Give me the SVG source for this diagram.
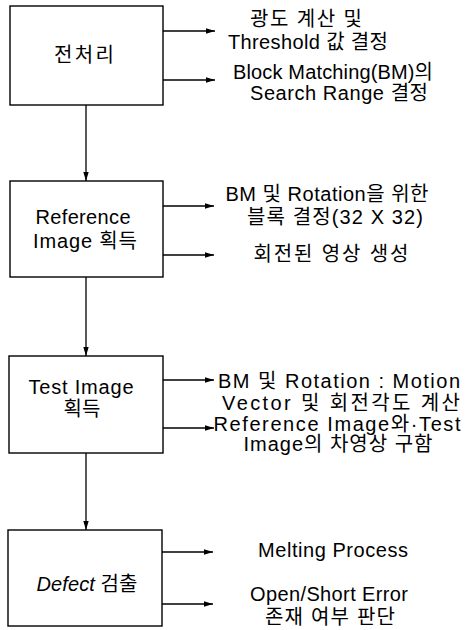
<svg xmlns="http://www.w3.org/2000/svg" width="465" height="630" viewBox="0 0 465 630">
  <style>
    .box { fill: #ffffff; stroke: #000000; stroke-width: 1.4; }
    .wire { fill: none; stroke: #000000; stroke-width: 1.3; marker-end: url(#head); }
    text { font-family: "Liberation Sans", "Noto Sans CJK KR", sans-serif; font-size: 20px; fill: #000000; text-anchor: middle; }
    .it { font-style: italic; }
  </style>
  <defs>
    <marker id="head" viewBox="0 0 10 6" refX="10" refY="3" markerWidth="9" markerHeight="6" markerUnits="userSpaceOnUse" orient="auto">
      <path d="M0,0 L10,3 L0,6 Z" fill="#000000"/>
    </marker>
  </defs>
  <rect width="465" height="630" fill="#ffffff"/>

  <!-- flow connectors -->
  <g id="connectors">
    <line class="wire" x1="86" y1="105" x2="86" y2="181"/>
    <line class="wire" x1="86" y1="277" x2="86" y2="356"/>
    <line class="wire" x1="86" y1="453" x2="86" y2="530"/>
    <line class="wire" x1="163" y1="31" x2="215" y2="31"/>
    <line class="wire" x1="163" y1="80" x2="215" y2="80"/>
    <line class="wire" x1="163" y1="206" x2="214" y2="206"/>
    <line class="wire" x1="163" y1="255" x2="214" y2="255"/>
    <line class="wire" x1="163" y1="380" x2="214" y2="380"/>
    <line class="wire" x1="163" y1="428" x2="214" y2="428"/>
    <line class="wire" x1="162" y1="552" x2="213" y2="552"/>
    <line class="wire" x1="162" y1="604" x2="213" y2="604"/>
  </g>

  <g id="preprocess">
    <rect class="box" x="10" y="6" width="153" height="99"/>
    <text x="84" y="62" textLength="60">전처리</text>
  </g>
  <g id="preprocess-notes">
    <text x="306" y="26" textLength="112">광도 계산 및</text>
    <text x="308" y="48.5" textLength="160">Threshold 값 결정</text>
    <text x="333" y="79" textLength="200">Block Matching(BM)의</text>
    <text x="339" y="99.5" textLength="178">Search Range 결정</text>
  </g>

  <g id="reference">
    <rect class="box" x="10" y="181" width="153" height="96"/>
    <text x="83" y="224" textLength="95">Reference</text>
    <text x="85" y="247.5" textLength="104">Image 획득</text>
  </g>
  <g id="reference-notes">
    <text x="327" y="200.5" textLength="203">BM 및 Rotation을 위한</text>
    <text x="335" y="224" textLength="176">블록 결정(32 X 32)</text>
    <text x="331" y="261" textLength="155">회전된 영상 생성</text>
  </g>

  <g id="test">
    <rect class="box" x="9" y="356" width="154" height="97"/>
    <text x="81" y="394" textLength="105">Test Image</text>
    <text x="82" y="416" textLength="37">획득</text>
  </g>
  <g id="test-notes">
    <text x="339" y="388" textLength="242">BM 및 Rotation : Motion</text>
    <text x="341" y="409.5" textLength="238">Vector 및 회전각도 계산</text>
    <text x="337" y="431" textLength="247">Reference Image와·Test</text>
    <text x="338" y="451" textLength="189">Image의 차영상 구함</text>
  </g>

  <g id="defect">
    <rect class="box" x="8" y="530" width="154" height="96"/>
    <text x="87" y="591" textLength="101"><tspan class="it">Defect</tspan> 검출</text>
  </g>
  <g id="defect-notes">
    <text x="333" y="557" textLength="150">Melting Process</text>
    <text x="329" y="601" textLength="158">Open/Short Error</text>
    <text x="330" y="624" textLength="130">존재 여부 판단</text>
  </g>
</svg>
